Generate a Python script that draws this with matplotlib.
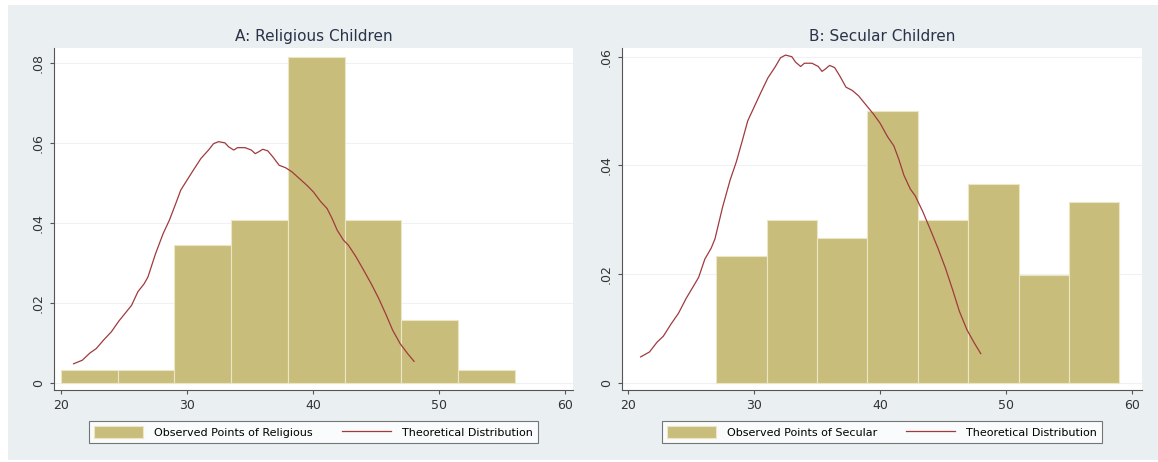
import matplotlib.pyplot as plt
import numpy as np

# histogram bins (left edges) and densities
rel_edges = [20, 24.5, 29, 33.5, 38, 42.5, 47, 51.5, 56]
rel_dens = [0.00317, 0.00317, 0.0344, 0.0407, 0.0815, 0.0407, 0.0157, 0.00317]

sec_edges = [27, 31, 35, 39, 43, 47, 51, 55, 59]
sec_dens = [0.0233, 0.0300, 0.0266, 0.0500, 0.0300, 0.0366, 0.0199, 0.0333]

# theoretical distribution curve (same in both panels)
theo_x = [21.0, 21.7, 22.3, 22.8, 23.4, 24.0, 24.6, 25.6, 26.1, 26.6, 26.9, 27.5,
          28.1, 28.6, 29.1, 29.5, 30.0, 30.5, 31.1, 31.7, 32.1, 32.5, 33.0, 33.3,
          33.7, 34.0, 34.6, 35.1, 35.4, 35.7, 36.0, 36.4, 36.8, 37.3, 37.8, 38.3,
          38.9, 39.5, 40.0, 40.6, 41.1, 41.5, 41.9, 42.4, 42.8, 43.4, 44.0, 44.6,
          45.2, 45.8, 46.3, 46.9, 47.5, 48.0]
theo_y = [0.0048, 0.0057, 0.0075, 0.0086, 0.0108, 0.0128, 0.0155, 0.0194, 0.0228,
          0.0248, 0.0265, 0.0323, 0.0373, 0.0407, 0.0448, 0.0482, 0.0507, 0.0532,
          0.0561, 0.0582, 0.0598, 0.0603, 0.0600, 0.0590, 0.0582, 0.0588, 0.0588,
          0.0582, 0.0573, 0.0578, 0.0584, 0.0580, 0.0565, 0.0544, 0.0538, 0.0528,
          0.0511, 0.0494, 0.0478, 0.0453, 0.0436, 0.0411, 0.0382, 0.0357, 0.0344,
          0.0315, 0.0282, 0.0248, 0.0211, 0.0169, 0.0132, 0.0098, 0.0073, 0.0054]

bg = '#eaeff1'
bar_col = '#c9bd7c'
line_col = '#a03a3e'

fig = plt.figure(figsize=(11.58, 4.62), dpi=100)
fig.patch.set_facecolor('white')
fig.patches.append(plt.Rectangle((8/1158, 2/462), 1, 455/462, transform=fig.transFigure,
                                 facecolor=bg, edgecolor='none', zorder=-10))


def panel(ax, edges, dens, width, title, label, ylim, yticks, ylabels):
    ax.set_facecolor('white')
    ax.yaxis.grid(True, color='#eef2f4', lw=0.8)
    ax.set_axisbelow(True)
    bars = ax.bar(edges[:-1], dens, width=width, align='edge', color=bar_col,
                  edgecolor='#ece6c4', lw=0.8, zorder=2)
    line, = ax.plot(theo_x, theo_y, color=line_col, lw=0.9, zorder=3)
    ax.set_xlim(19.45, 60.6)
    ax.set_ylim(*ylim)
    ax.set_xticks([20, 30, 40, 50, 60])
    ax.set_yticks(yticks)
    ax.set_yticklabels(ylabels, rotation=90, va='center')
    for s in ['top', 'right']:
        ax.spines[s].set_visible(False)
    for s in ['left', 'bottom']:
        ax.spines[s].set_color('#555555')
        ax.spines[s].set_linewidth(0.8)
    ax.tick_params(labelsize=9, length=3, color='#555555', labelcolor='#333333')
    ax.set_title(title, fontsize=11, color='#2a3348', pad=5)
    leg = ax.legend([bars, line], [label, 'Theoretical Distribution'],
                    loc='upper center', bbox_to_anchor=(0.5, -0.075), ncol=2,
                    fontsize=8, frameon=True, fancybox=False, edgecolor='#555555',
                    handlelength=4.4, handleheight=1.3, columnspacing=2.6,
                    borderpad=0.45, handletextpad=1.0)
    leg.get_frame().set_linewidth(0.8)


ax1 = fig.add_axes([54/1158, 72/462, 519/1158, 342/462])
panel(ax1, rel_edges, rel_dens, 4.5, 'A: Religious Children', 'Observed Points of Religious',
      (-0.00175, 0.0837), [0, 0.02, 0.04, 0.06, 0.08], ['0', '.02', '.04', '.06', '.08'])

ax2 = fig.add_axes([622/1158, 72/462, 520/1158, 342/462])
panel(ax2, sec_edges, sec_dens, 4, 'B: Secular Children', 'Observed Points of Secular',
      (-0.00129, 0.0616), [0, 0.02, 0.04, 0.06], ['0', '.02', '.04', '.06'])
ax2.set_xlim(19.52, 60.8)

fig.savefig('out.png', dpi=100, facecolor=fig.get_facecolor())
